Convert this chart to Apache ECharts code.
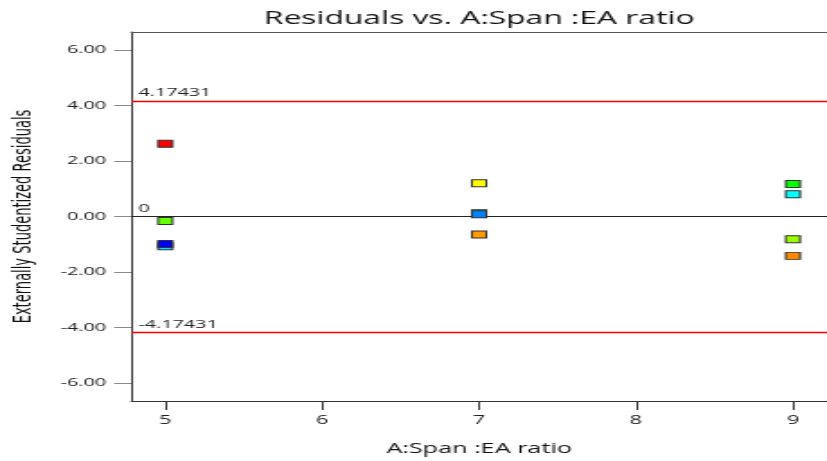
<!DOCTYPE html>
<html>
<head>
<meta charset="utf-8">
<script src="https://cdn.jsdelivr.net/npm/echarts@6/dist/echarts.min.js"></script>
<style>
  html, body { margin: 0; padding: 0; background: #fff; overflow: hidden; }
  /* the plot is laid out on a narrow canvas and widened to the full page */
  #chart { width: 460px; height: 461px; transform: scaleX(1.7978); transform-origin: 0 0; }
</style>
</head>
<body>
<div id="chart"></div>
<script>
// Factor level of each run and its externally studentized residual
const spanRatio = [5, 5, 5, 5, 7, 7, 7, 7, 9, 9, 9, 9];
const residuals = [2.62, -0.16, -1.07, -0.99, 1.20, 0.12, 0.08, -0.65, 1.17, 0.80, -0.82, -1.42];
// Outlier limits
const limitValue = 4.17431;
// Tick values
const xTickValues = [5, 6, 7, 8, 9];
const yTickValues = [-6, -4, -2, 0, 2, 4, 6];

// Marker fill colours, one per run
const pointColors = ['#ff0000', '#66ff00', '#00e0ff', '#0000ff',
                     '#ffff00', '#00ff55', '#0080ff', '#ff9900',
                     '#00ff00', '#00ffff', '#99ff00', '#ff8800'];

const FONT = "'Open Sans', 'DejaVu Sans', sans-serif";
const chart = echarts.init(document.getElementById('chart'), null, { renderer: 'canvas' });

const points = spanRatio.map((x, i) => ({
  value: [x, residuals[i]],
  itemStyle: { color: pointColors[i] }
}));

const refLabel = {
  position: 'insideStartTop', distance: [4, 2],
  fontFamily: FONT, fontSize: 11, color: '#222',
  formatter: p => p.name
};

chart.setOption({
  animation: false,
  backgroundColor: '#ffffff',
  title: {
    text: 'Residuals vs. A:Span :EA ratio',
    left: 261.5, top: 5, textAlign: 'center',
    textStyle: { fontFamily: FONT, fontSize: 17.7, fontWeight: 'normal', color: '#111' }
  },
  grid: { left: 73, right: 0, top: 32, bottom: 60, containLabel: false, outerBoundsMode: 'none' },
  xAxis: [{
    type: 'value', min: 4.783, max: 9.217,
    name: 'A:Span :EA ratio', nameLocation: 'middle', nameGap: 41,
    nameTextStyle: { fontFamily: FONT, fontSize: 14, color: '#111' },
    axisLine: { show: true, onZero: false, lineStyle: { color: '#333', width: 1 } },
    axisTick: { show: true, length: 9, customValues: xTickValues, lineStyle: { color: '#333' } },
    axisLabel: { customValues: xTickValues, margin: 14, fontFamily: FONT, fontSize: 12, color: '#222' },
    splitLine: { show: false }
  }, {
    type: 'value', position: 'top', min: 4.783, max: 9.217,
    axisLine: { show: true, onZero: false, lineStyle: { color: '#555', width: 1 } },
    axisTick: { show: false }, axisLabel: { show: false }, splitLine: { show: false }
  }],
  yAxis: {
    type: 'value', min: -6.65, max: 6.65,
    name: 'Externally Studentized Residuals', nameLocation: 'middle', nameGap: 52,
    nameTextStyle: { fontFamily: "'Liberation Sans Narrow', 'DejaVu Sans Condensed', 'Noto Sans', sans-serif", fontSize: 14.5, color: '#111' },
    axisLine: { show: true, onZero: false, lineStyle: { color: '#333', width: 1 } },
    axisTick: { show: true, length: 9.5, customValues: yTickValues, lineStyle: { color: '#888' } },
    axisLabel: {
      customValues: yTickValues, margin: 14,
      fontFamily: FONT, fontSize: 11, color: '#222',
      formatter: v => v.toFixed(2)
    },
    splitLine: { show: false }
  },
  series: [{
    // upper and lower outlier limits
    type: 'line', data: [], xAxisIndex: 0,
    markLine: {
      silent: true, symbol: 'none', z: 3,
      lineStyle: { color: '#ff0000', width: 1.4, type: 'solid', opacity: 1 },
      label: refLabel,
      data: [
        { yAxis: limitValue, name: String(limitValue) },
        { yAxis: -limitValue, name: String(-limitValue) }
      ]
    }
  }, {
    // zero reference
    type: 'line', data: [], xAxisIndex: 0,
    markLine: {
      silent: true, symbol: 'none', z: 3,
      lineStyle: { color: '#222', width: 1, type: 'solid', opacity: 1 },
      label: refLabel,
      data: [{ yAxis: 0, name: '0' }]
    }
  }, {
    type: 'scatter',
    xAxisIndex: 0,
    symbol: 'rect',
    symbolSize: [8, 7],
    itemStyle: { borderColor: '#333', borderWidth: 1, opacity: 1 },
    data: points,
    z: 5
  }]
});
</script>
</body>
</html>
